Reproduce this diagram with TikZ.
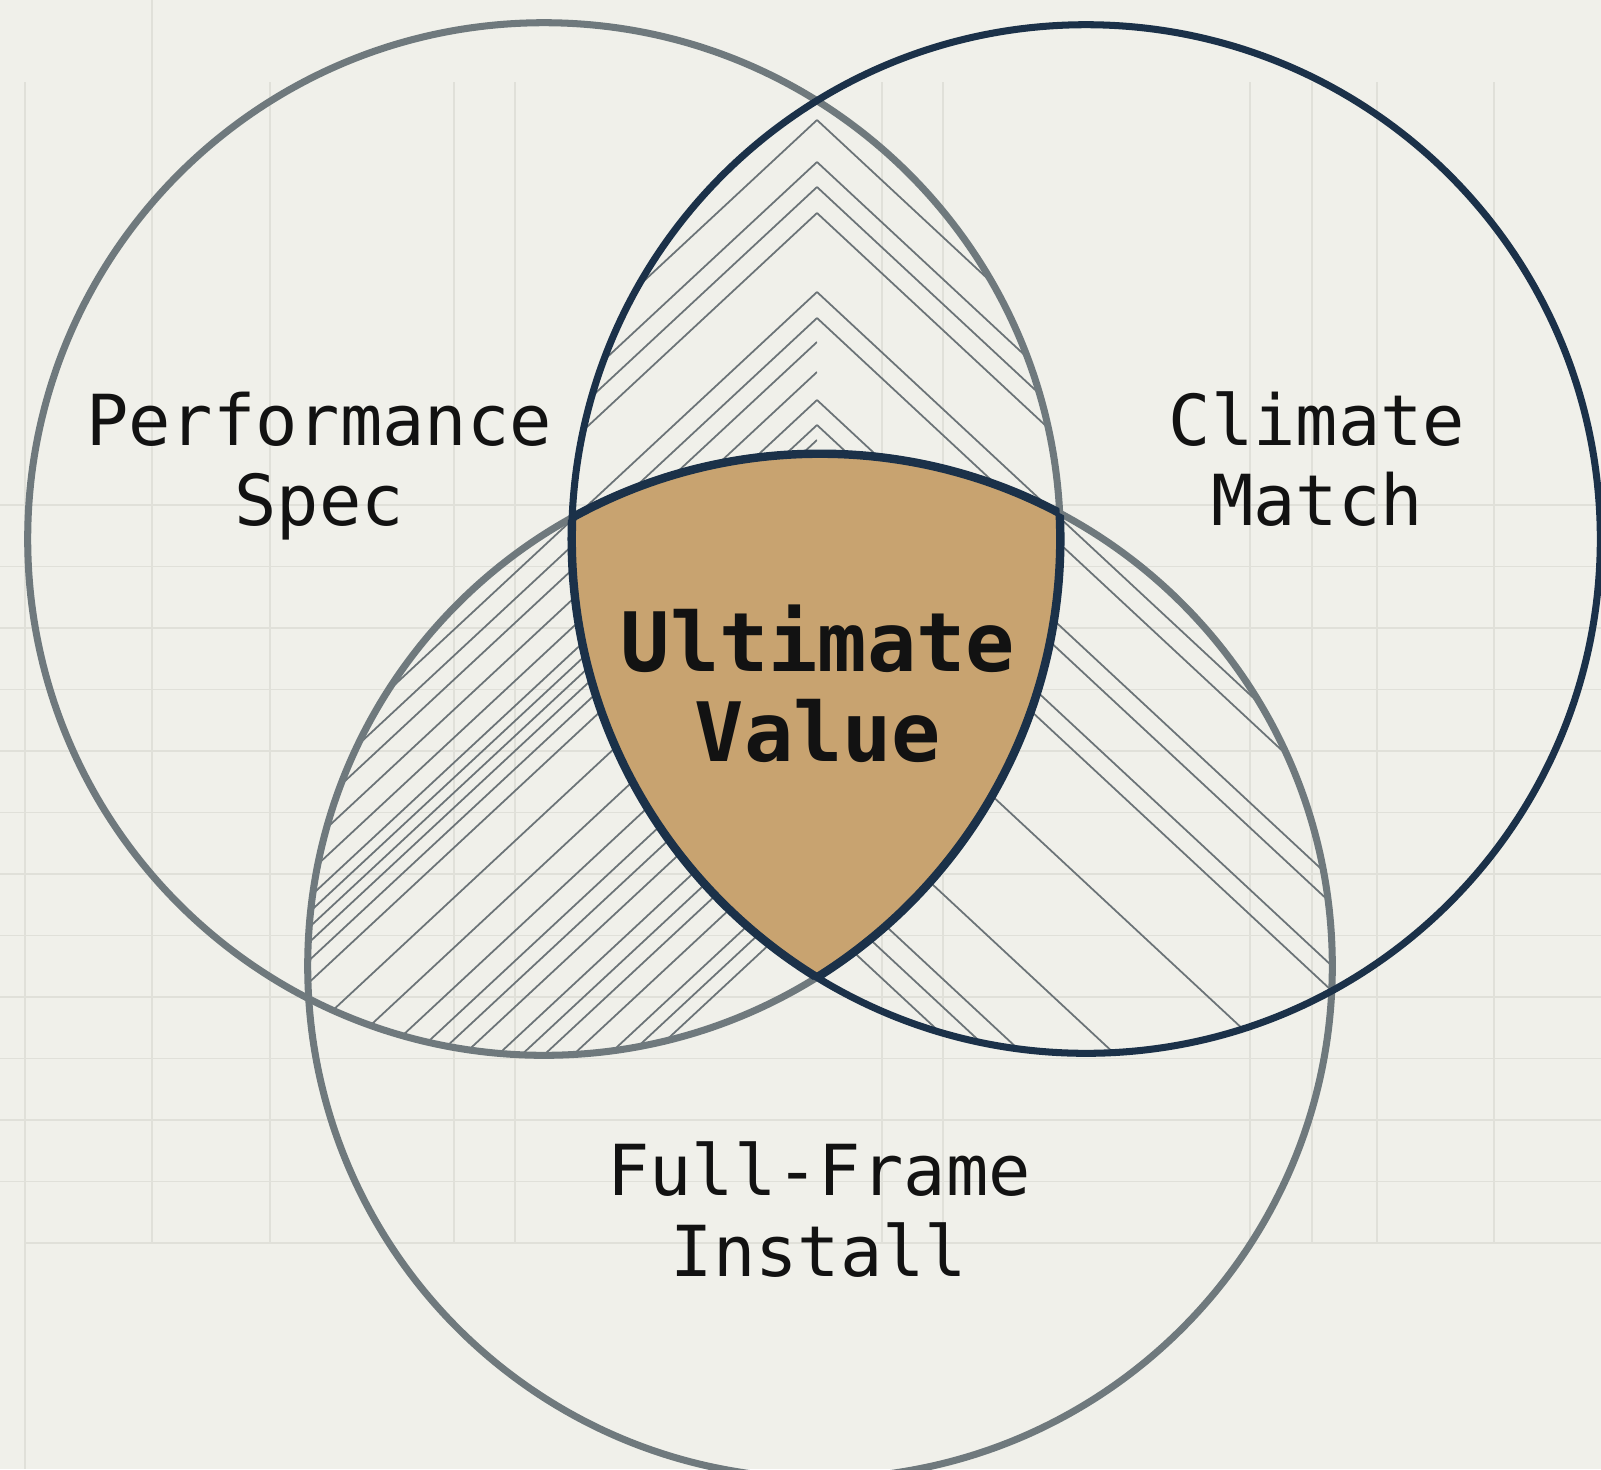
\documentclass[tikz,border=0pt]{standalone}
\usepackage{fontspec}
\newfontfamily\monolbl{DejaVu Sans Mono}
\definecolor{bgc}{HTML}{F0F0EA}
\definecolor{gridc}{HTML}{E0E0D9}
\definecolor{grayc}{HTML}{6F797D}
\definecolor{navyc}{HTML}{1B3149}
\definecolor{tanc}{HTML}{C8A370}
\definecolor{hatchc}{HTML}{6B7377}
\definecolor{inkc}{HTML}{121212}
\begin{document}
\begin{tikzpicture}[x=0.01cm,y=-0.01cm,
  ring/.style={line width=2.0pt},
  coreedge/.style={draw=navyc,line width=2.4pt},
  hatchline/.style={draw=hatchc,line width=0.5pt},
  gridline/.style={draw=gridc,line width=0.45pt},
  lbl/.style={font={\monolbl\fontsize{20}{22}\selectfont}, text=inkc, anchor=base, inner sep=0pt},
  corelbl/.style={font={\monolbl\bfseries\fontsize{23.3}{26}\selectfont}, text=inkc, anchor=base, inner sep=0pt}]
\useasboundingbox (0,0) rectangle (1601,1469);
\fill[bgc] (0,0) rectangle (1601,1469);
% faint background grid
\foreach \x in {25,270,454,515,882,943,1250,1312,1377,1494}
  \draw[gridline] (\x,82) -- (\x,1243);
\draw[gridline] (152,0) -- (152,1243);
\draw[gridline] (25,1243) -- (25,1469);
\foreach \k in {0,...,11}
  \draw[gridline] (0,505+61.5*\k) -- (1601,505+61.5*\k);
\draw[gridline] (25,1243) -- (1601,1243);

\coordinate (cL) at (544,539);
\coordinate (cR) at (1086,539);
\coordinate (cB) at (820,966);
\def\radL{5.16cm}
\def\radR{5.14cm}
\def\radB{5.12cm}
\def\Xo{817}
\def\lefthatch{\foreach \c in {120,162,187,213,292,318,342,372,400,425,440,455,470,488,510,560,610,650,680,702,726,758,780,801,828,861,880,900}
  \draw[hatchline] (\Xo,\c) -- ++(-800,744);}
\def\righthatch{\foreach \c in {120,162,187,213,292,318,400,425,487,512,633,777,862,890,918}
  \draw[hatchline] (\Xo,\c) -- ++(800,744);}
% hatching in the pairwise overlaps
\begin{scope}
  \clip (cL) circle[radius=\radL];
  \clip (cR) circle[radius=\radR];
  \begin{scope}\clip (0,0) rectangle (\Xo,1469); \lefthatch \end{scope}
  \begin{scope}\clip (\Xo,0) rectangle (1601,1469); \righthatch \end{scope}
\end{scope}
\begin{scope}
  \clip (cL) circle[radius=\radL];
  \clip (cB) circle[radius=\radB];
  \clip (0,0) rectangle (\Xo,1469);
  \lefthatch
\end{scope}
\begin{scope}
  \clip (cR) circle[radius=\radR];
  \clip (cB) circle[radius=\radB];
  \clip (\Xo,0) rectangle (1601,1469);
  \righthatch
\end{scope}
% centre region
\begin{scope}
  \clip (cL) circle[radius=\radL];
  \clip (cR) circle[radius=\radR];
  \fill[tanc] (cB) circle[radius=\radB];
\end{scope}
% circles
\draw[ring,draw=grayc] (cL) circle[radius=\radL];
\draw[ring,draw=grayc] (cB) circle[radius=\radB];
\draw[ring,draw=navyc] (cR) circle[radius=\radR];
% centre outline
\begin{scope}
  \clip (cL) circle[radius=\radL]; \clip (cR) circle[radius=\radR];
  \draw[coreedge] (cB) circle[radius=\radB];
\end{scope}
\begin{scope}
  \clip (cL) circle[radius=\radL]; \clip (cB) circle[radius=\radB];
  \draw[coreedge] (cR) circle[radius=\radR];
\end{scope}
\begin{scope}
  \clip (cR) circle[radius=\radR]; \clip (cB) circle[radius=\radB];
  \draw[coreedge] (cL) circle[radius=\radL];
\end{scope}
% labels
\node[lbl] (perfA) at (319,445) {Performance};
\node[lbl] (perfB) at (319,525) {Spec};
\node[lbl] (climA) at (1317,445) {Climate};
\node[lbl] (climB) at (1317,525) {Match};
\node[lbl] (fullA) at (819,1195) {Full-Frame};
\node[lbl] (fullB) at (819,1276) {Install};
\node[corelbl] (ultA) at (818,671) {Ultimate};
\node[corelbl] (ultB) at (818,761) {Value};
\end{tikzpicture}
\end{document}
